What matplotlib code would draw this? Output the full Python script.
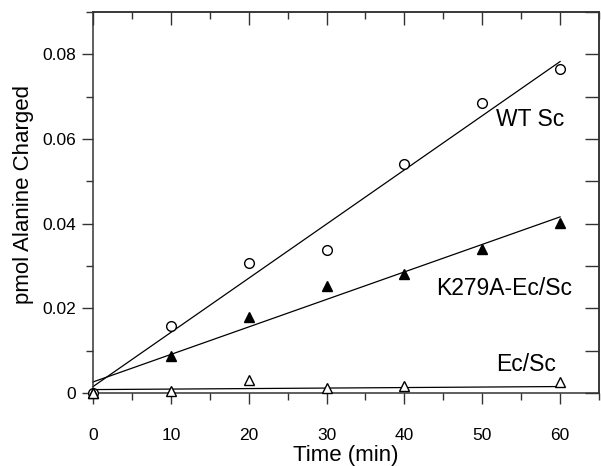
import numpy as np
import matplotlib.pyplot as plt
from matplotlib.ticker import MultipleLocator

plt.rcParams['font.family'] = ['Liberation Sans', 'DejaVu Sans']

# time points (min)
time_wt = [0, 10, 20, 30, 40, 50, 60]
time_k279a = [0, 10, 20, 30, 40, 50, 60]
time_ec = [0, 10, 20, 30, 40, 60]

# pmol alanine charged
wt_sc = [0.0, 0.0158, 0.0308, 0.0337, 0.0541, 0.0684, 0.0766]
k279a = [0.0, 0.0087, 0.0179, 0.0253, 0.0280, 0.0341, 0.0402]
ec_sc = [0.0, 0.0004, 0.0031, 0.0011, 0.0017, 0.0026]

# fitted lines (intercept, slope)
fit_wt = (0.0015, 0.00128)
fit_k279a = (0.0026, 0.00065)
fit_ec = (0.0008, 0.000012)

fig = plt.figure(figsize=(6.01, 4.66), dpi=100)
ax = fig.add_axes([0.1547, 0.1567, 0.842, 0.8175])

xfit = np.array([0, 60])
for (b, m) in [fit_wt, fit_k279a, fit_ec]:
    ax.plot(xfit, b + m * xfit, color='black', lw=0.9, clip_on=False)

ax.plot(time_wt, wt_sc, 'o', mfc='white', mec='black', ms=7, mew=1, clip_on=False, zorder=3)
ax.plot(time_k279a, k279a, '^', mfc='black', mec='black', ms=7, mew=1, clip_on=False, zorder=3)
ax.plot(time_ec, ec_sc, '^', mfc='white', mec='black', ms=7, mew=1, clip_on=False, zorder=3)

ax.set_xlim(0, 65)
ax.set_ylim(0, 0.09)

ax.xaxis.set_minor_locator(MultipleLocator(5))
ax.yaxis.set_minor_locator(MultipleLocator(0.01))
ax.set_xticks([0, 10, 20, 30, 40, 50, 60])
ax.set_xticklabels(['0', '10', '20', '30', '40', '50', '60'])
ax.set_yticks([0, 0.02, 0.04, 0.06, 0.08])
ax.set_yticklabels(['0', '0.02', '0.04', '0.06', '0.08'])

ax.tick_params(which='both', direction='out', labelsize=12.5, width=1, color='#333333')
ax.tick_params(which='major', length=8)
ax.tick_params(which='minor', length=5)
ax.tick_params(axis='x', pad=17)
ax.tick_params(axis='y', pad=4)

top = ax.secondary_xaxis('top')
top.xaxis.set_major_locator(MultipleLocator(10))
top.xaxis.set_minor_locator(MultipleLocator(5))
top.tick_params(which='both', direction='in', labeltop=False, width=1, color='#333333')
top.tick_params(which='major', length=9)
top.tick_params(which='minor', length=5)

right = ax.secondary_yaxis('right')
right.yaxis.set_major_locator(MultipleLocator(0.02))
right.yaxis.set_minor_locator(MultipleLocator(0.01))
right.tick_params(which='both', direction='in', labelright=False, width=1, color='#333333')
right.tick_params(which='major', length=10)
right.tick_params(which='minor', length=10)

for s in ax.spines.values():
    s.set_linewidth(1.1)
    s.set_color('#333333')
for sa in (top, right):
    for s in sa.spines.values():
        s.set_linewidth(1.1)
        s.set_color('#333333')

ax.set_xlabel('Time (min)', fontsize=16, labelpad=1.5)
ax.set_ylabel('pmol Alanine Charged', fontsize=16)
ax.yaxis.set_label_coords(-0.117, 0.522)

ax.text(60.5, 0.0645, 'WT Sc', fontsize=16.5, ha='right', va='center')
ax.text(61.5, 0.0247, 'K279A-Ec/Sc', fontsize=16.5, ha='right', va='center')
ax.text(59.5, 0.0068, 'Ec/Sc', fontsize=16.5, ha='right', va='center')

fig.savefig('out.png', dpi=100)
